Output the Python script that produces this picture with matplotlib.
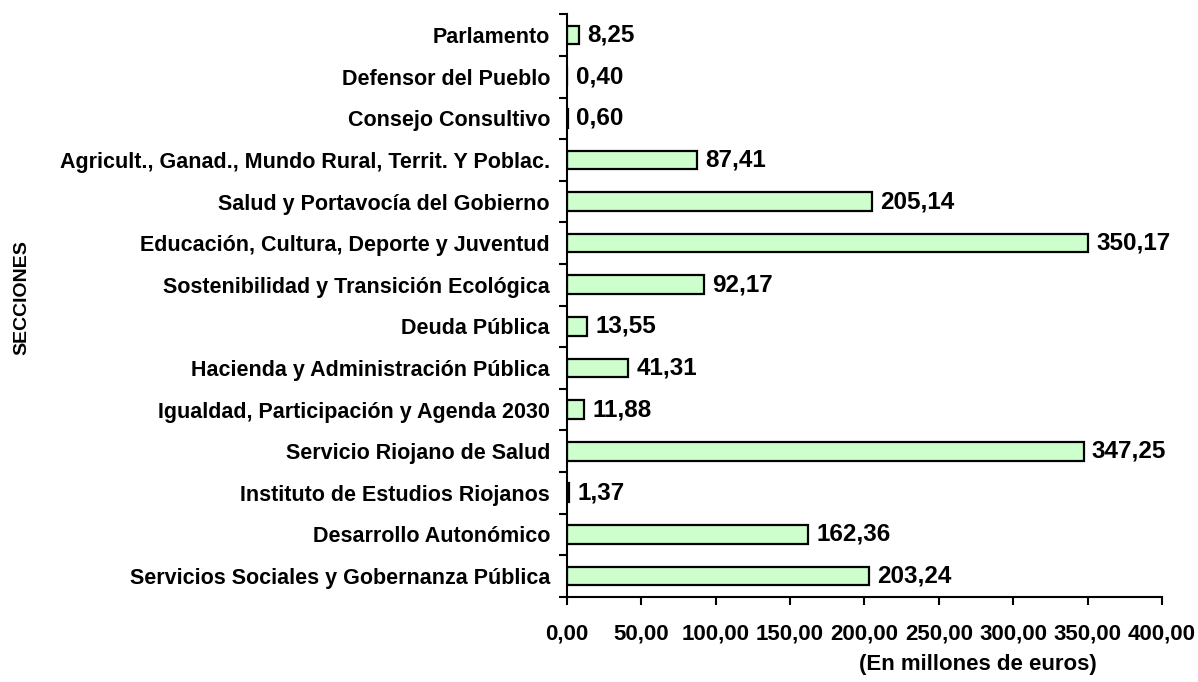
import numpy as np
import matplotlib.pyplot as plt
from matplotlib.ticker import FixedLocator, FuncFormatter

plt.rcParams['font.family'] = ['Liberation Sans', 'DejaVu Sans']
plt.rcParams['font.weight'] = 'bold'

secciones = [
    'Parlamento',
    'Defensor del Pueblo',
    'Consejo Consultivo',
    'Agricult., Ganad., Mundo Rural, Territ. Y Poblac.',
    'Salud y Portavocía del Gobierno',
    'Educación, Cultura, Deporte y Juventud',
    'Sostenibilidad y Transición Ecológica',
    'Deuda Pública',
    'Hacienda y Administración Pública',
    'Igualdad, Participación y Agenda 2030',
    'Servicio Riojano de Salud',
    'Instituto de Estudios Riojanos',
    'Desarrollo Autonómico',
    'Servicios Sociales y Gobernanza Pública',
]
importes = [8.25, 0.40, 0.60, 87.41, 205.14, 350.17, 92.17, 13.55,
            41.31, 11.88, 347.25, 1.37, 162.36, 203.24]

def coma(v, pos=None):
    return ('%.2f' % v).replace('.', ',')

fig = plt.figure(figsize=(11.98, 6.82), dpi=100)
ax = fig.add_axes([0.473, 0.125, 0.497, 0.854])

y = np.arange(len(secciones))
ax.barh(y, importes, height=0.45, color='#ccffcc', edgecolor='black', linewidth=1.6)
ax.set_ylim(len(secciones) - 0.5, -0.5)
ax.set_xlim(0, 400)

# etiquetas de valor a la derecha de cada barra
for yi, v in zip(y, importes):
    ax.annotate(coma(v), (v, yi), xytext=(6, 0), textcoords='offset points',
                va='center', ha='left', fontsize=17.5, fontweight='bold')

ax.set_yticks(y)
ax.set_yticklabels(secciones, fontsize=15.5, fontweight='bold')
ax.tick_params(axis='y', which='major', length=0, pad=12)
ax.yaxis.set_minor_locator(FixedLocator(np.arange(-0.5, len(secciones), 1)))
ax.tick_params(axis='y', which='minor', length=6, width=1.5, direction='out')

ax.set_xticks(np.arange(0, 401, 50))
ax.xaxis.set_major_formatter(FuncFormatter(coma))
ax.tick_params(axis='x', length=6, width=1.5, direction='out', pad=13, labelsize=16)

for s in ['top', 'right']:
    ax.spines[s].set_visible(False)
for s in ['left', 'bottom']:
    ax.spines[s].set_linewidth(1.5)

fig.text(0.816, 0.025, '(En millones de euros)', ha='center', va='center',
         fontsize=16, fontweight='bold')
fig.text(0.018, 0.563, 'SECCIONES', rotation=90, va='center', ha='center',
         fontsize=14, fontweight='bold')

fig.savefig('out.png', dpi=100)
